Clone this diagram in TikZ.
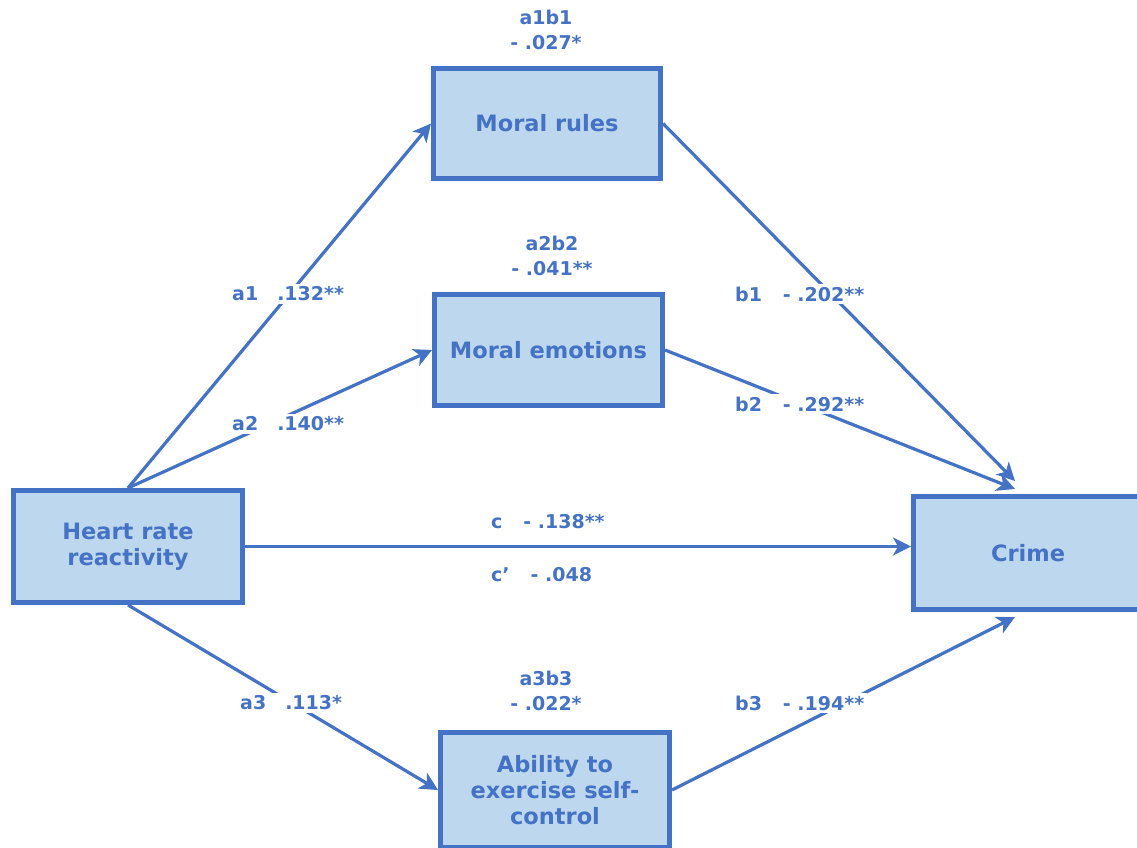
\documentclass[tikz,border=0pt]{standalone}
\usepackage{fontspec}
\setmainfont{DejaVu Sans}
\usetikzlibrary{arrows.meta}
\definecolor{ink}{HTML}{4472C4}
\definecolor{boxfill}{HTML}{BDD7EE}
\newcommand{\boxfont}{\fontsize{22.5}{26}\selectfont\bfseries}
\newcommand{\labfont}{\fontsize{19}{24.5}\selectfont\bfseries}
\tikzset{
  varbox/.style={draw=ink, fill=boxfill, line width=5pt, inner sep=0pt,
    align=center, font=\boxfont, text=ink},
  coef/.style={fill=white, inner sep=3pt, font=\labfont, text=ink, anchor=west},
  effect/.style={font=\labfont, text=ink, align=center, inner sep=0pt},
  path/.style={draw=ink, line width=3.2pt,
    -{Stealth[length=18pt,width=18pt,inset=5pt]}}
}
\begin{document}
\begin{tikzpicture}[x=1pt,y=-1pt]
\useasboundingbox (0,0) rectangle (1137,848);

% variables
\node[varbox, minimum width=227pt, minimum height=110pt] (rules) at (547,123.5) {Moral rules};
\node[varbox, minimum width=228pt, minimum height=111pt] (emo) at (548.5,350) {Moral emotions};
\node[varbox, minimum width=229pt, minimum height=112pt] (hr) at (128,546.5) {Heart rate\\reactivity};
\node[varbox, minimum width=229pt, minimum height=113pt] (crime) at (1028,553) {Crime};
\node[varbox, minimum width=229pt, minimum height=115pt] (abil) at (555,790) {Ability to\\exercise self-\\control};

% arrow ends on the outcome
\coordinate (in1) at (1015,481);
\coordinate (in2) at (1015,489);
\coordinate (in3) at (1015,617);

% paths
\draw[path] (hr.north) -- (rules.west);
\draw[path] (hr.north) -- (emo.west);
\draw[path] (hr.south) -- (abil.west);
\draw[path] (hr.east) -- (hr.east -| crime.west);
\draw[path] (rules.east) -- (in1);
\draw[path] (emo.east) -- (in2);
\draw[path] (abil.east) -- (in3);

% path coefficients
\node[coef] (ca1) at (229,294) {a1\hspace{1.0em}.132**};
\node[coef] (ca2) at (229,424) {a2\hspace{1.0em}.140**};
\node[coef] (ca3) at (237,703) {a3\hspace{1.0em}.113*};
\node[coef] (cb1) at (732,294) {b1\hspace{1.1em}- .202**};
\node[coef] (cb2) at (732,404) {b2\hspace{1.1em}- .292**};
\node[coef] (cb3) at (732,703) {b3\hspace{1.1em}- .194**};
\node[coef, fill=none] (cc) at (488,522) {c\hspace{1.1em}- .138**};
\node[coef, fill=none] (ccp) at (488,575) {c’\hspace{1.1em}- .048};

% indirect effects
\node[effect] (e1) at (546,30) {a1b1\\- .027*};
\node[effect] (e2) at (552,256) {a2b2\\- .041**};
\node[effect] (e3) at (546,691) {a3b3\\- .022*};
\end{tikzpicture}
\end{document}
